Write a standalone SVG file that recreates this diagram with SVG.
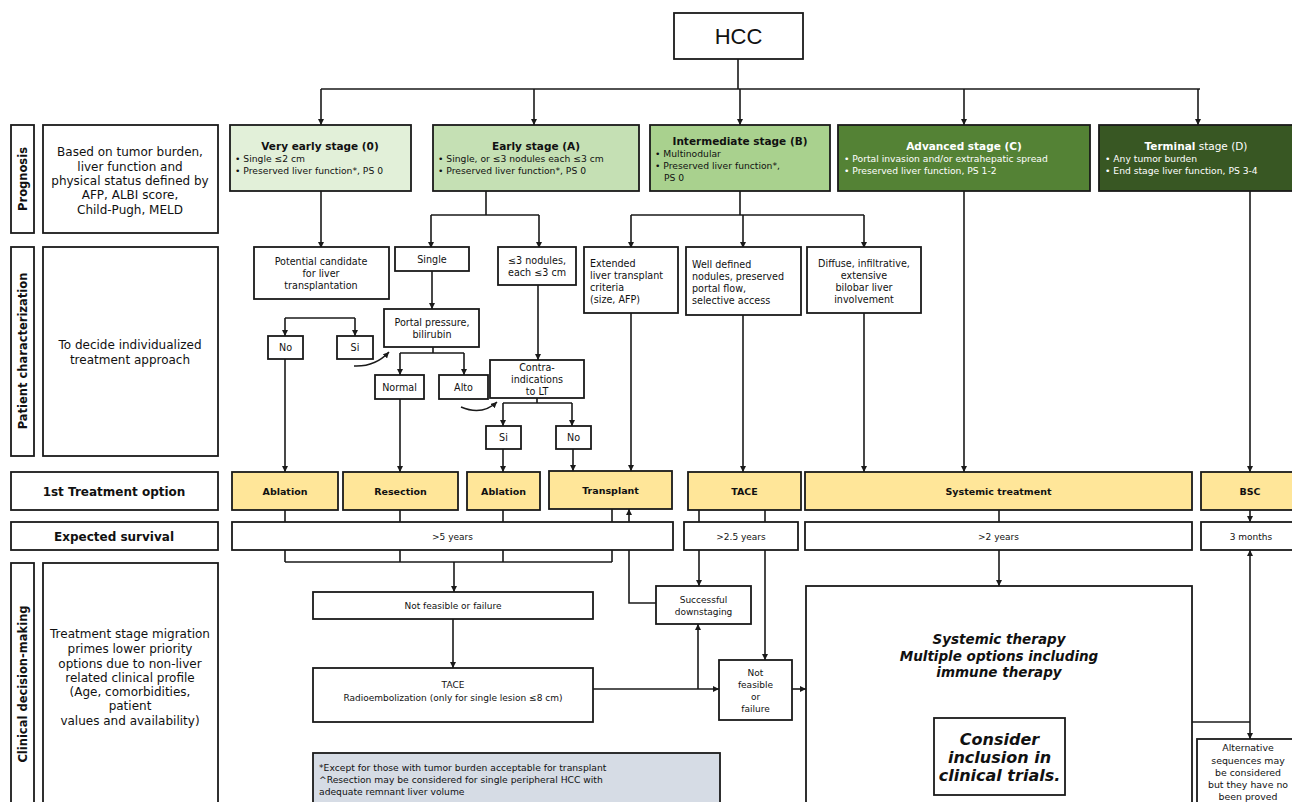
<svg xmlns="http://www.w3.org/2000/svg" width="1292" height="802" viewBox="0 0 1292 802">
<defs>
<marker id="ah" viewBox="0 0 10 10" refX="10" refY="5" markerWidth="6" markerHeight="6" markerUnits="userSpaceOnUse" orient="auto-start-reverse"><path d="M0 0 L10 5 L0 10 z" fill="#1a1a1a"/></marker>
<style>
.b{fill:#fff;stroke:#1a1a1a;stroke-width:1.8}
.y{fill:#ffe699;stroke:#1a1a1a;stroke-width:1.8}
.t{font-family:"DejaVu Sans",Verdana,sans-serif;fill:#111}
.w{fill:#fff}
.c{text-anchor:middle}
.bd{font-weight:bold}
.bi{font-weight:bold;font-style:italic}
.s9{font-size:9.2px}
.s96{font-size:9.6px}
.s12{font-size:12px}
.ln{fill:none;stroke:#1a1a1a;stroke-width:1.6}
.ar{marker-end:url(#ah)}
</style>
</defs>
<rect width="1292" height="802" fill="#fff"/>

<g id="connectors" class="ln">
<path d="M738 59V89M321 89H1200"/>
<path class="ar" d="M321 89V125"/><path class="ar" d="M534 89V125"/><path class="ar" d="M740 89V125"/><path class="ar" d="M964 89V125"/><path class="ar" d="M1198 89V125"/>
<path class="ar" d="M321 191V248"/>
<path d="M486 191V215M431 215H539"/>
<path class="ar" d="M431 215V248"/><path class="ar" d="M539 215V248"/>
<path d="M740 191V215M631 215H864"/>
<path class="ar" d="M631 215V248"/><path class="ar" d="M743 215V248"/><path class="ar" d="M864 215V248"/>
<path class="ar" d="M964 191V472"/>
<path class="ar" d="M1250 191V472"/>
<path d="M285 318H355"/>
<path class="ar" d="M285 318V336"/><path class="ar" d="M355 318V336"/>
<path class="ar" d="M354 366Q375 367 389 352"/>
<path class="ar" d="M432 271V309"/>
<path d="M433 347V353M400 353H464"/>
<path class="ar" d="M400 353V375"/><path class="ar" d="M464 353V375"/>
<path class="ar" d="M538 285V360"/>
<path class="ar" d="M461 407Q482 416 497 402"/>
<path d="M537 398V403M503 403H572"/>
<path class="ar" d="M503 403V426"/><path class="ar" d="M572 403V426"/>
<path class="ar" d="M285 359V472"/>
<path class="ar" d="M400 399V472"/>
<path class="ar" d="M503 449V472"/>
<path class="ar" d="M573 449V471"/>
<path class="ar" d="M631 313V471"/>
<path class="ar" d="M743 315V472"/>
<path class="ar" d="M864 313V472"/>
<path d="M285 510V562M400 510V562M503 510V562M612 509V562M285 562H612"/>
<path class="ar" d="M454 562V592"/>
<path class="ar" d="M656 603H629V509"/>
<path class="ar" d="M699 510V586"/>
<path class="ar" d="M765 510V660"/>
<path d="M999 510V522"/>
<path class="ar" d="M999 550V586"/>
<path class="ar" d="M1250 510V522"/>
<path class="ar" d="M1250 550V739" marker-start="url(#ah)"/>
<path d="M1192 722H1250"/>
<path class="ar" d="M453 619V668"/>
<path class="ar" d="M593 689H719"/>
<path class="ar" d="M698 689V624"/>
<path class="ar" d="M792 689H806"/>
</g>

<g id="hcc"><rect class="b" x="674" y="13" width="129" height="46"/><text x="738.5" y="44" class="c" font-family="'Liberation Sans',Arial,sans-serif" font-size="22" fill="#111">HCC</text></g>

<g id="label-prognosis"><rect class="b" x="11" y="125" width="23" height="108"/><text class="t bd c" font-size="11.5" transform="translate(26.5 179) rotate(-90)">Prognosis</text></g>
<g id="desc-prognosis"><rect class="b" x="43" y="125" width="175" height="108"/>
<text class="t c s12"><tspan x="130" y="156">Based on tumor burden,</tspan><tspan x="130" y="171">liver function and</tspan><tspan x="130" y="185">physical status defined by</tspan><tspan x="130" y="199">AFP, ALBI score,</tspan><tspan x="130" y="214">Child-Pugh, MELD</tspan></text></g>

<g id="label-patient"><rect class="b" x="11" y="247" width="23" height="209"/><text class="t bd c" font-size="11.5" transform="translate(26.5 351) rotate(-90)">Patient characterization</text></g>
<g id="desc-patient"><rect class="b" x="43" y="247" width="175" height="209"/>
<text class="t c s12"><tspan x="130" y="349">To decide individualized</tspan><tspan x="130" y="364">treatment approach</tspan></text></g>

<g id="label-treatment"><rect class="b" x="11" y="472" width="207" height="38"/><text x="114" y="496" class="t bd c s12">1st Treatment option</text></g>
<g id="label-survival"><rect class="b" x="11" y="522" width="207" height="28"/><text x="114" y="541" class="t bd c s12">Expected survival</text></g>

<g id="label-clinical"><rect class="b" x="11" y="563" width="23" height="260"/><text class="t bd c" font-size="11.5" transform="translate(26.5 684) rotate(-90)">Clinical decision-making</text></g>
<g id="desc-clinical"><rect class="b" x="43" y="563" width="175" height="260"/>
<text class="t c s12"><tspan x="130" y="638">Treatment stage migration</tspan><tspan x="130" y="653">primes lower priority</tspan><tspan x="130" y="668">options due to non-liver</tspan><tspan x="130" y="682">related clinical profile</tspan><tspan x="130" y="696">(Age, comorbidities,</tspan><tspan x="130" y="710">patient</tspan><tspan x="130" y="725">values and availability)</tspan></text></g>

<g id="stage-0"><rect x="230" y="125" width="181" height="66" fill="#e2f0d9" stroke="#1a1a1a" stroke-width="1.8"/>
<text x="320" y="150" class="t bd c" font-size="10.5">Very early stage (0)</text>
<text class="t s9"><tspan x="235" y="162">•  Single ≤2 cm</tspan><tspan x="235" y="174">•  Preserved liver function*, PS 0</tspan></text></g>
<g id="stage-a"><rect x="433" y="125" width="206" height="66" fill="#c5e0b4" stroke="#1a1a1a" stroke-width="1.8"/>
<text x="536" y="150" class="t bd c" font-size="10.5">Early stage (A)</text>
<text class="t s9"><tspan x="438" y="162">• Single, or ≤3 nodules each ≤3 cm</tspan><tspan x="438" y="174">• Preserved liver function*, PS 0</tspan></text></g>
<g id="stage-b"><rect x="650" y="125" width="180" height="66" fill="#a9d18e" stroke="#1a1a1a" stroke-width="1.8"/>
<text x="740" y="145" class="t bd c" font-size="10.5">Intermediate stage (B)</text>
<text class="t s9"><tspan x="655" y="157">• Multinodular</tspan><tspan x="655" y="169">• Preserved liver function*,</tspan><tspan x="664" y="181">PS 0</tspan></text></g>
<g id="stage-c"><rect x="838" y="125" width="252" height="66" fill="#548235" stroke="#1a1a1a" stroke-width="1.8"/>
<text x="964" y="150" class="t w bd c" font-size="10.5">Advanced stage (C)</text>
<text class="t w s9"><tspan x="844" y="162">• Portal invasion and/or extrahepatic spread</tspan><tspan x="844" y="174">• Preserved liver function, PS 1-2</tspan></text></g>
<g id="stage-d"><rect x="1099" y="125" width="200" height="66" fill="#385723" stroke="#1a1a1a" stroke-width="1.8"/>
<text x="1196" y="150" class="t w c" font-size="10.5"><tspan font-weight="bold">Terminal</tspan> stage (D)</text>
<text class="t w s9"><tspan x="1105" y="162">• Any tumor burden</tspan><tspan x="1105" y="174">• End stage liver function, PS 3-4</tspan></text></g>

<g id="candidate"><rect class="b" x="254" y="247" width="135" height="52"/><text class="t c s96"><tspan x="321" y="265">Potential candidate</tspan><tspan x="321" y="277">for liver</tspan><tspan x="321" y="289">transplantation</tspan></text></g>
<g id="single"><rect class="b" x="395" y="247" width="74" height="24"/><text x="432" y="263" class="t c s96">Single</text></g>
<g id="nodules"><rect class="b" x="498" y="247" width="78" height="38"/><text class="t c s96"><tspan x="537" y="264">≤3 nodules,</tspan><tspan x="537" y="276">each ≤3 cm</tspan></text></g>
<g id="extended"><rect class="b" x="584" y="247" width="94" height="66"/><text class="t s96"><tspan x="590" y="267">Extended</tspan><tspan x="590" y="279">liver transplant</tspan><tspan x="590" y="291">criteria</tspan><tspan x="590" y="303">(size, AFP)</tspan></text></g>
<g id="welldefined"><rect class="b" x="686" y="247" width="115" height="68"/><text class="t s96"><tspan x="692" y="268">Well defined</tspan><tspan x="692" y="280">nodules, preserved</tspan><tspan x="692" y="292">portal flow,</tspan><tspan x="692" y="304">selective access</tspan></text></g>
<g id="diffuse"><rect class="b" x="807" y="247" width="114" height="66"/><text class="t c s96"><tspan x="864" y="267">Diffuse, infiltrative,</tspan><tspan x="864" y="279">extensive</tspan><tspan x="864" y="291">bilobar liver</tspan><tspan x="864" y="303">involvement</tspan></text></g>
<g id="no1"><rect class="b" x="268" y="336" width="35" height="23"/><text x="285.5" y="351" class="t c s96">No</text></g>
<g id="si1"><rect class="b" x="337" y="336" width="36" height="23"/><text x="355" y="351" class="t c s96">Si</text></g>
<g id="portal"><rect class="b" x="384" y="309" width="95" height="38"/><text class="t c s96"><tspan x="432" y="326">Portal pressure,</tspan><tspan x="432" y="338">bilirubin</tspan></text></g>
<g id="normal"><rect class="b" x="375" y="375" width="49" height="24"/><text x="399.5" y="391" class="t c s96">Normal</text></g>
<g id="alto"><rect class="b" x="439" y="375" width="49" height="24"/><text x="463.5" y="391" class="t c s96">Alto</text></g>
<g id="contra"><rect class="b" x="490" y="360" width="94" height="38"/><text class="t c s96"><tspan x="537" y="371">Contra-</tspan><tspan x="537" y="383">indications</tspan><tspan x="537" y="395">to LT</tspan></text></g>
<g id="si2"><rect class="b" x="486" y="426" width="35" height="23"/><text x="503.5" y="441" class="t c s96">Si</text></g>
<g id="no2"><rect class="b" x="556" y="426" width="35" height="23"/><text x="573.5" y="441" class="t c s96">No</text></g>

<g id="t-ablation1"><rect class="y" x="232" y="472" width="106" height="38"/><text x="285" y="495" class="t bd c" font-size="9.5">Ablation</text></g>
<g id="t-resection"><rect class="y" x="343" y="472" width="115" height="38"/><text x="400.5" y="495" class="t bd c" font-size="9.5">Resection</text></g>
<g id="t-ablation2"><rect class="y" x="467" y="472" width="73" height="38"/><text x="503.5" y="495" class="t bd c" font-size="9.5">Ablation</text></g>
<g id="t-transplant"><rect class="y" x="549" y="471" width="123" height="38"/><text x="610.5" y="494" class="t bd c" font-size="9.5">Transplant</text></g>
<g id="t-tace"><rect class="y" x="688" y="472" width="113" height="38"/><text x="744.5" y="495" class="t bd c" font-size="9.5">TACE</text></g>
<g id="t-systemic"><rect class="y" x="805" y="472" width="387" height="38"/><text x="998.5" y="495" class="t bd c" font-size="9.5">Systemic treatment</text></g>
<g id="t-bsc"><rect class="y" x="1201" y="472" width="100" height="38"/><text x="1250" y="495" class="t bd c" font-size="9.5">BSC</text></g>

<g id="s-5y"><rect class="b" x="232" y="522" width="441" height="28"/><text x="452.5" y="540" class="t c" font-size="9">&gt;5 years</text></g>
<g id="s-25y"><rect class="b" x="684" y="522" width="114" height="28"/><text x="741" y="540" class="t c" font-size="9">&gt;2.5 years</text></g>
<g id="s-2y"><rect class="b" x="805" y="522" width="387" height="28"/><text x="998.5" y="540" class="t c" font-size="9">&gt;2 years</text></g>
<g id="s-3m"><rect class="b" x="1201" y="522" width="100" height="28"/><text x="1251" y="540" class="t c" font-size="9">3 months</text></g>

<g id="notfeasible1"><rect class="b" x="313" y="592" width="280" height="27"/><text x="453" y="609" class="t c" font-size="9">Not feasible or failure</text></g>
<g id="tace-radio"><rect class="b" x="313" y="668" width="280" height="54"/><text class="t c" font-size="9"><tspan x="453" y="688">TACE</tspan><tspan x="453" y="701">Radioembolization (only for single lesion ≤8 cm)</tspan></text></g>
<g id="downstaging"><rect class="b" x="656" y="586" width="95" height="38"/><text class="t c" font-size="9"><tspan x="703.5" y="603">Successful</tspan><tspan x="703.5" y="615">downstaging</tspan></text></g>
<g id="notfeasible2"><rect class="b" x="719" y="660" width="73" height="60"/><text class="t c" font-size="9"><tspan x="755.5" y="676">Not</tspan><tspan x="755.5" y="688">feasible</tspan><tspan x="755.5" y="700">or</tspan><tspan x="755.5" y="712">failure</tspan></text></g>
<g id="systemic-therapy"><rect class="b" x="806" y="586" width="386" height="240"/>
<text class="t bi c" font-size="13.5"><tspan x="999" y="644">Systemic therapy</tspan><tspan x="999" y="661">Multiple options including</tspan><tspan x="999" y="677">immune therapy</tspan></text></g>
<g id="trials"><rect class="b" x="934" y="718" width="131" height="77"/><text class="t bi c" font-size="16"><tspan x="999.5" y="745">Consider</tspan><tspan x="999.5" y="763">inclusion in</tspan><tspan x="999.5" y="781">clinical trials.</tspan></text></g>
<g id="alternative"><rect class="b" x="1197" y="739" width="104" height="80"/><text class="t c" font-size="9.4"><tspan x="1248" y="751">Alternative</tspan><tspan x="1248" y="764">sequences may</tspan><tspan x="1248" y="776">be considered</tspan><tspan x="1248" y="788">but they have no</tspan><tspan x="1248" y="800">been proved</tspan></text></g>
<g id="footnote"><rect x="313" y="753" width="407" height="60" fill="#d6dce5" stroke="#1a1a1a" stroke-width="1.8"/><text class="t s9"><tspan x="319" y="771">*Except for those with tumor burden acceptable for transplant</tspan><tspan x="319" y="783">^Resection may be considered for single peripheral HCC with</tspan><tspan x="319" y="795">adequate remnant liver volume</tspan></text></g>
</svg>
